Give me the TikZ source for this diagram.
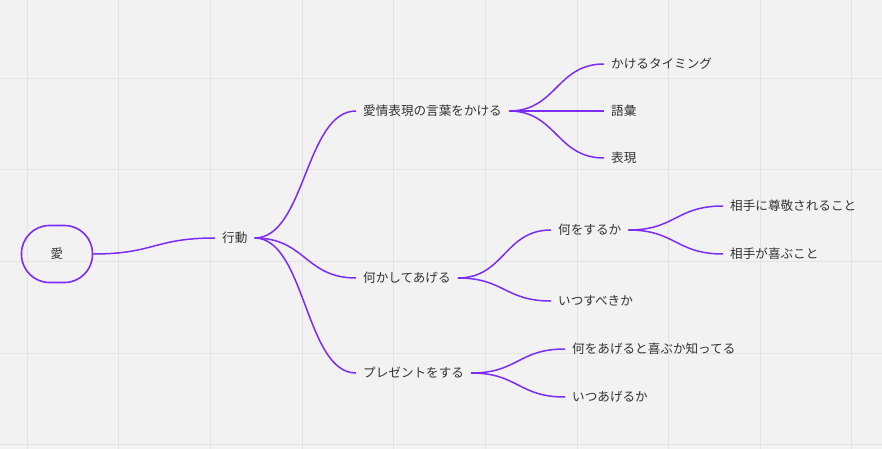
\documentclass[tikz,border=0pt]{standalone}
\usepackage{fontspec}
\setmainfont{Noto Sans CJK JP}
\usetikzlibrary{calc}
\definecolor{linkpurple}{HTML}{7B2CF5}
\definecolor{paper}{HTML}{F2F2F2}
\definecolor{gridgray}{HTML}{E3E3E3}
\definecolor{inkgray}{HTML}{333333}
\tikzset{
  leaf/.style={anchor=west, inner xsep=7pt, inner ysep=2pt, text=inkgray,
    font=\fontsize{12.6}{15}\selectfont},
  rootbox/.style={draw=linkpurple, line width=1.6pt, rounded corners=28pt,
    minimum width=71pt, minimum height=57pt, text=inkgray,
    font=\fontsize{12.6}{15}\selectfont},
  branch/.style={draw=linkpurple, line width=1.5pt},
  twig/.style={to path={let \p1=(\tikztostart), \p2=(\tikztotarget) in
    .. controls ({(\x1+\x2)/2},\y1) and ({(\x1+\x2)/2},\y2) .. (\tikztotarget) \tikztonodes}}
}
\begin{document}
\begin{tikzpicture}[x=1pt, y=-1pt]
    % 背景とグリッド
    \useasboundingbox[fill=paper] (0,0) rectangle (882,449);
    \foreach \i in {0,...,9}
        \draw[gridgray, line width=0.8pt] ({27+91.65*\i},0) -- ++(0,449);
    \foreach \j in {0,...,4}
        \draw[gridgray, line width=0.8pt] (0,{78+91.65*\j}) -- ++(882,0);

    % 中心
    \node[rootbox] (ai) at (57,254) {愛};
    \node[leaf] (koudou) at (215,238) {行動};

    % 第二階層
    \node[leaf] (kotoba) at (356,111) {愛情表現の言葉をかける};
    \node[leaf] (nanika) at (356,278) {何かしてあげる};
    \node[leaf] (present) at (356,373) {プレゼントをする};

    % 第三階層
    \node[leaf] (timing) at (604,64) {かけるタイミング};
    \node[leaf] (goi) at (604,111) {語彙};
    \node[leaf] (hyogen) at (604,158) {表現};
    \node[leaf] (nani) at (551,230) {何をするか};
    \node[leaf] (itsu) at (551,301) {いつすべきか};
    \node[leaf] (shitteru) at (565,349) {何をあげると喜ぶか知ってる};
    \node[leaf] (itsuageru) at (565,397) {いつあげるか};

    % 第四階層
    \node[leaf] (sonkei) at (723,206) {相手に尊敬されること};
    \node[leaf] (yorokobu) at (723,254) {相手が喜ぶこと};

    % 枝
    \draw[branch] (ai.east) to[twig] (koudou.west);
    \foreach \c in {kotoba, nanika, present}
        \draw[branch] (koudou.east) to[twig] (\c.west);
    \foreach \c in {timing, goi, hyogen}
        \draw[branch] (kotoba.east) to[twig] (\c.west);
    \foreach \c in {nani, itsu}
        \draw[branch] (nanika.east) to[twig] (\c.west);
    \foreach \c in {sonkei, yorokobu}
        \draw[branch] (nani.east) to[twig] (\c.west);
    \foreach \c in {shitteru, itsuageru}
        \draw[branch] (present.east) to[twig] (\c.west);
\end{tikzpicture}
\end{document}
